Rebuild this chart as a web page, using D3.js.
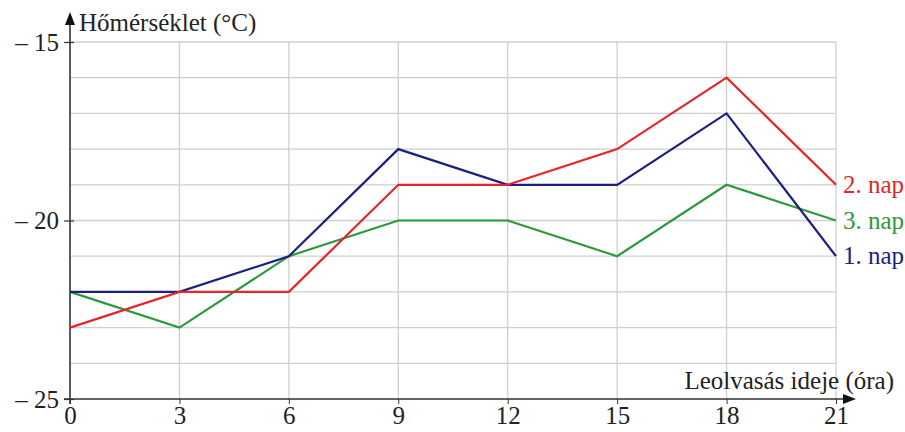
<!DOCTYPE html>
<html><head><meta charset="utf-8">
<script src="https://cdn.jsdelivr.net/npm/d3@7"></script>
<style>body{margin:0;background:#fff;overflow:hidden}svg{display:block}text{font-family:"Liberation Serif","Times New Roman",serif}</style>
</head><body>
<svg id="c" width="905" height="432"></svg>
<script>
const hours = [0, 3, 6, 9, 12, 15, 18, 21];
const day1 = [-22, -22, -21, -18, -19, -19, -17, -21];
const day2 = [-23, -22, -22, -19, -19, -18, -16, -19];
const day3 = [-22, -23, -21, -20, -20, -21, -19, -20];
const seriesNames = ["1. nap", "2. nap", "3. nap"];
const seriesColors = ["#1c1f7e", "#e3262b", "#2a9a3c"];
const yTicks = [-25, -20, -15];
const yLabel = "Hőmérséklet (°C)";
const xLabel = "Leolvasás ideje (óra)";

const svg = d3.select("#c");
const x = d3.scaleLinear().domain([0, 21]).range([70, 836]);
const y = d3.scaleLinear().domain([-25, -15]).range([399, 42]);
const FS = 25;

// grid
const g = svg.append("g");
g.selectAll("line.h").data(d3.range(-24, -14)).join("line")
  .attr("x1", x(0)).attr("x2", x(21)).attr("y1", d => y(d)).attr("y2", d => y(d))
  .attr("stroke", "#cfcfcf").attr("stroke-width", 1.3);
g.selectAll("line.v").data(hours.slice(1)).join("line")
  .attr("x1", d => x(d)).attr("x2", d => x(d)).attr("y1", y(-15)).attr("y2", y(-25))
  .attr("stroke", "#cfcfcf").attr("stroke-width", 1.3);

// axes
const xAxis = d3.axisBottom(x).tickValues(hours).tickSize(6).tickFormat(d3.format("d"));
const xg = svg.append("g").attr("transform", `translate(0,${y(-25)})`).call(xAxis);
xg.select(".domain").remove();
xg.selectAll(".tick line").attr("stroke", "#333").attr("y1", 0).attr("y2", 5);
xg.selectAll(".tick text").attr("font-size", FS).attr("fill", "#222").attr("y", 7)
  .style("font-family", "Liberation Serif");

const yAxis = d3.axisLeft(y).tickValues(yTicks).tickSize(0).tickFormat(d => "– " + Math.abs(d));
const yg = svg.append("g").attr("transform", `translate(${x(0)},0)`).call(yAxis);
yg.select(".domain").remove();
yg.selectAll(".tick line").remove();
yg.selectAll(".tick").append("line").attr("x1", -6).attr("x2", 4).attr("stroke", "#333").attr("stroke-width", 1.2);
yg.selectAll(".tick text").attr("font-size", FS).attr("fill", "#222").attr("x", -11).attr("dy", "0.33em")
  .style("font-family", "Liberation Serif");

// axis lines with arrows
svg.append("line").attr("x1", x(0)).attr("x2", x(0)).attr("y1", 22).attr("y2", y(-25) + 5)
  .attr("stroke", "#333").attr("stroke-width", 1.6);
svg.append("path").attr("d", `M${x(0)},12 L${x(0) - 5},25 L${x(0) + 5},25 Z`).attr("fill", "#111");
svg.append("line").attr("x1", x(0) - 6).attr("x2", 845).attr("y1", y(-25)).attr("y2", y(-25))
  .attr("stroke", "#333").attr("stroke-width", 1.6);
svg.append("path").attr("d", `M856,${y(-25)} L843,${y(-25) - 5} L843,${y(-25) + 5} Z`).attr("fill", "#111");

svg.append("text").attr("x", 79).attr("y", 31).attr("font-size", FS).attr("fill", "#222").text(yLabel);
svg.append("text").attr("x", 894).attr("y", 389).attr("text-anchor", "end").attr("font-size", FS).attr("fill", "#222").text(xLabel);

// lines
const data = [day1, day2, day3];
const line = d3.line().x((d, i) => x(hours[i])).y(d => y(d));
const order = [2, 0, 1];
order.forEach(k => {
  svg.append("path").datum(data[k]).attr("d", line).attr("fill", "none")
    .attr("stroke", seriesColors[k]).attr("stroke-width", 2.2).attr("stroke-linejoin", "miter");
});
data.forEach((s, k) => {
  svg.append("text").attr("x", 843).attr("y", y(s[s.length - 1])).attr("dy", "0.33em")
    .attr("font-size", FS).attr("fill", seriesColors[k]).text(seriesNames[k]);
});
</script>
</body></html>
